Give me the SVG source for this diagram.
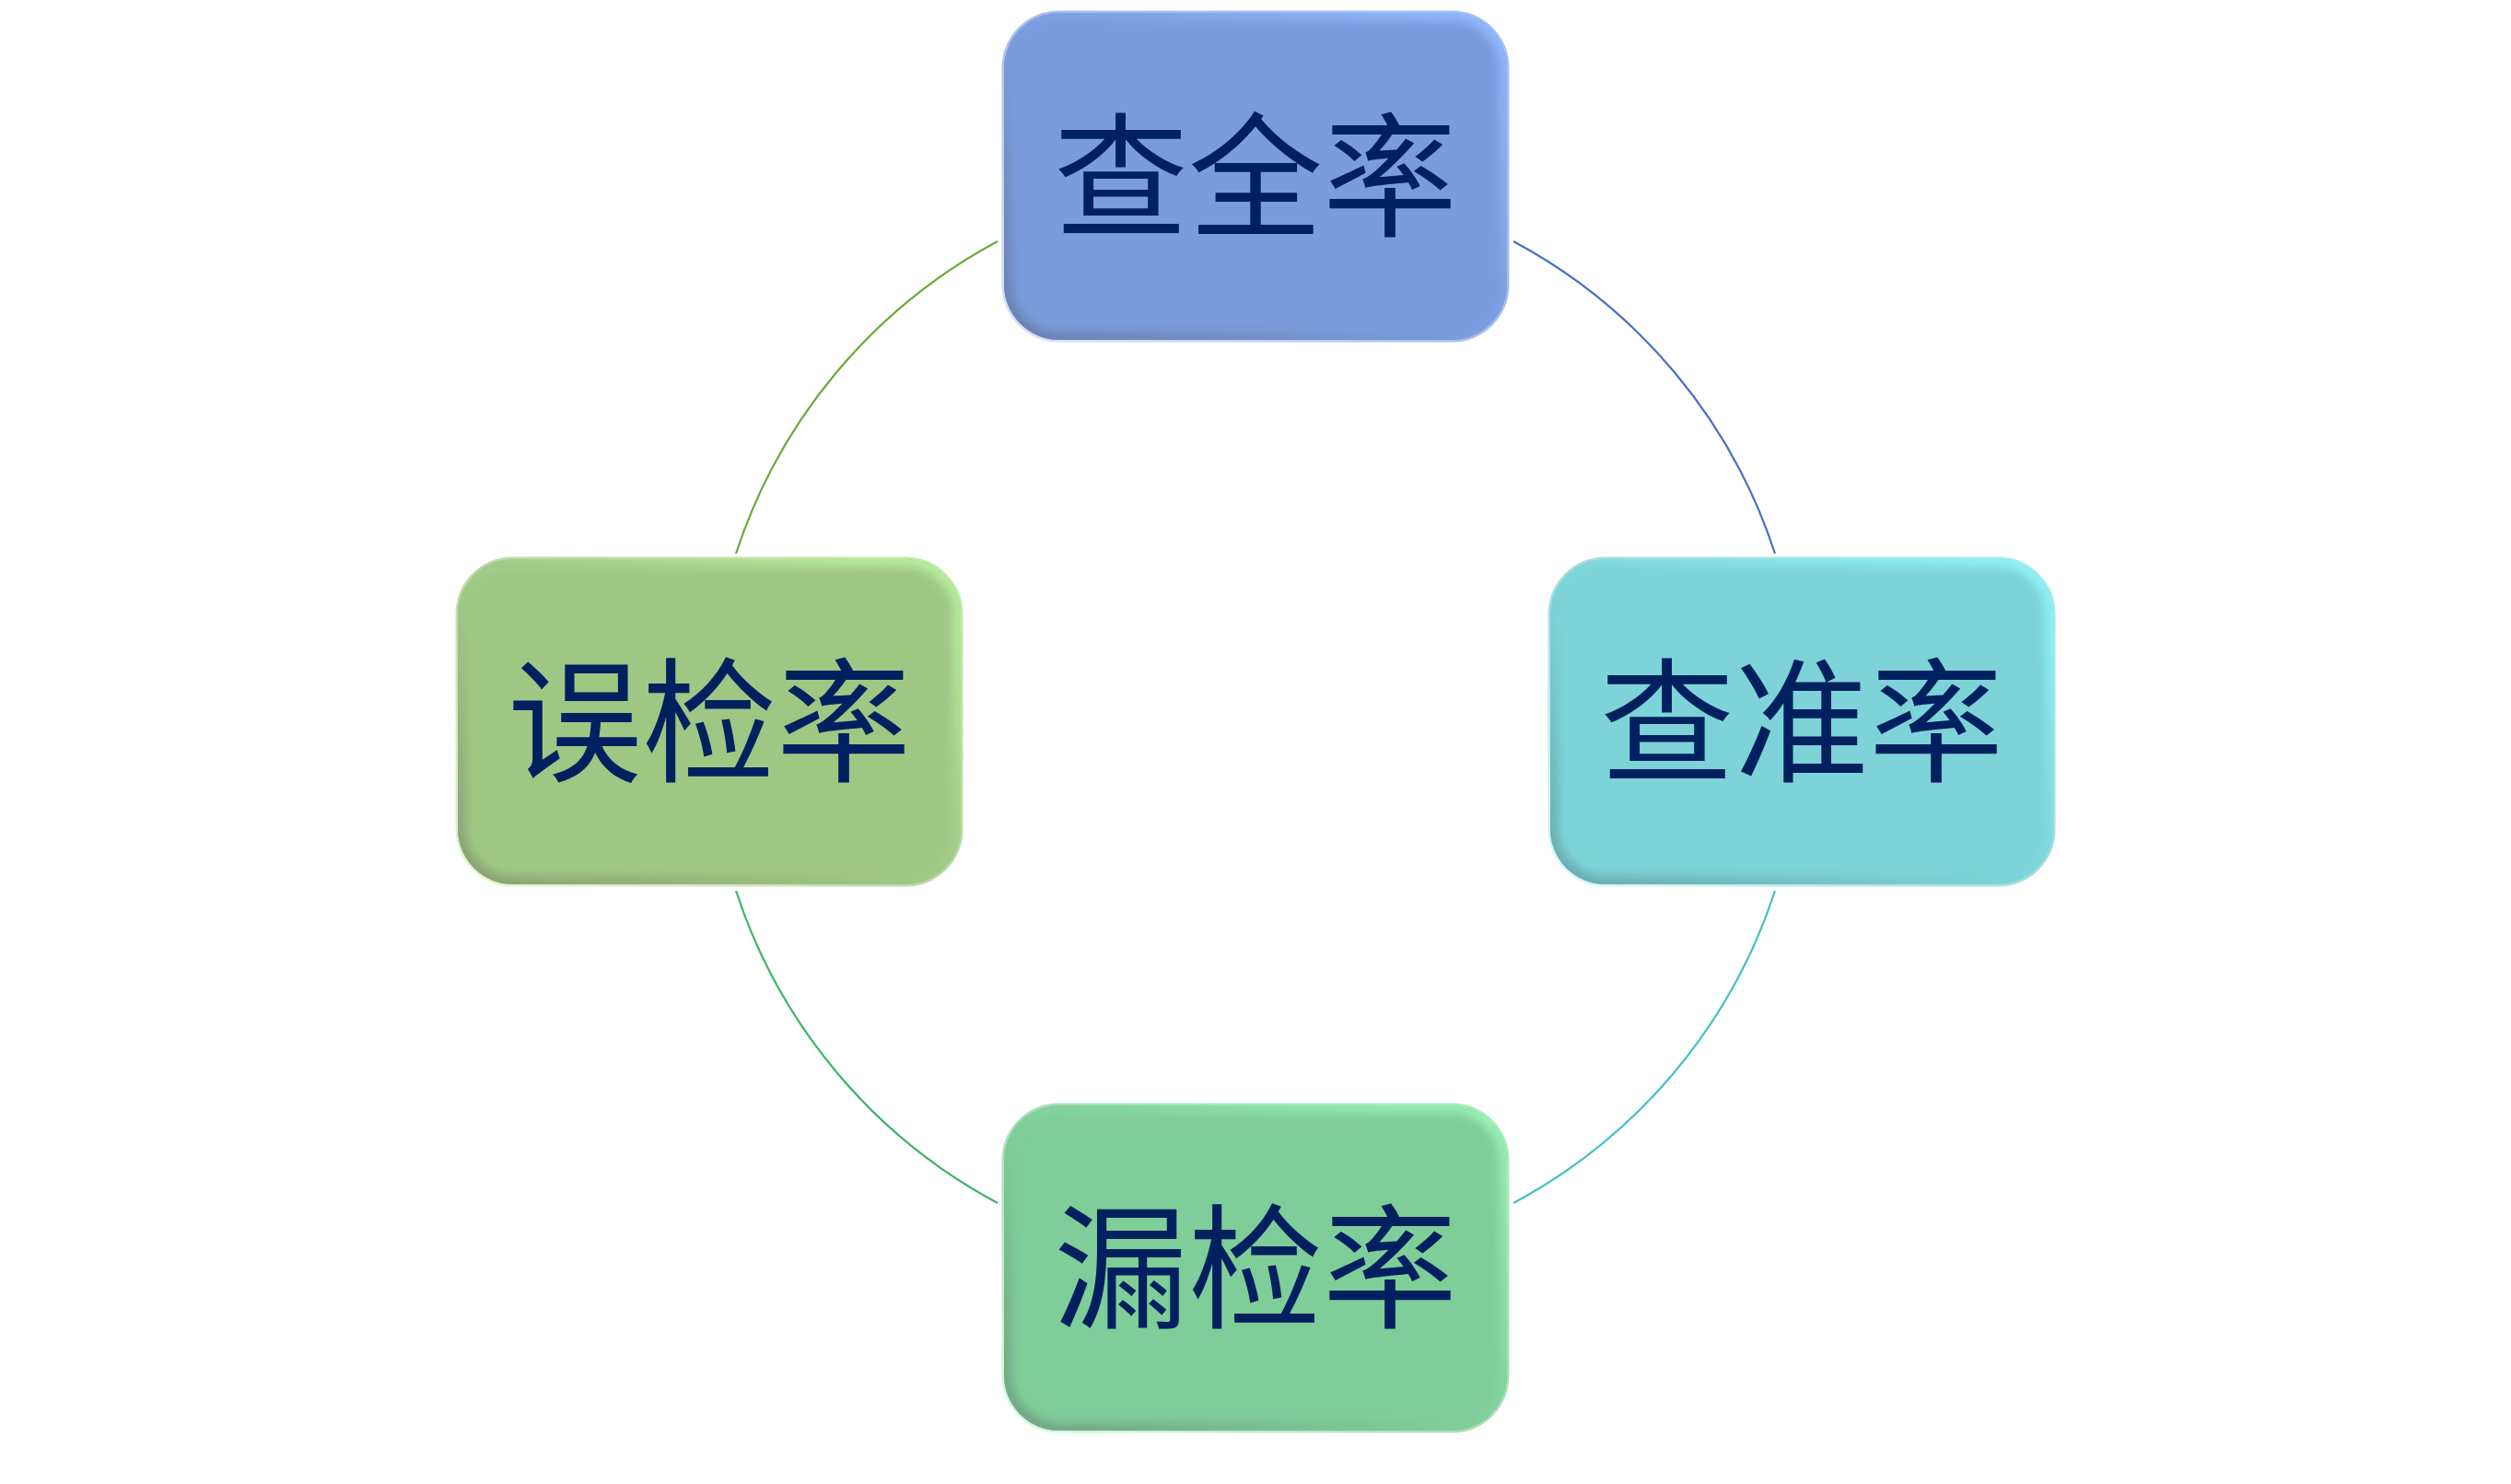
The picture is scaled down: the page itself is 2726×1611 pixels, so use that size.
<svg xmlns="http://www.w3.org/2000/svg" width="2726" height="1611" viewBox="0 0 2726 1611">
<style>
  .conn { fill: none; stroke-width: 2.2; }
  .label { font-family: "Noto Sans CJK SC", "Noto Sans", sans-serif; font-size: 146px; font-weight: 400; fill: #002060; text-anchor: middle; }
  .edge { fill: none; stroke-width: 18; filter: url(#soft); clip-path: url(#rclip); }
  .halo { fill: none; stroke-width: 3; }
</style>
<defs>
  <filter id="soft" x="-5%" y="-5%" width="110%" height="110%"><feGaussianBlur stdDeviation="5"/></filter>
  <clipPath id="rclip" clipPathUnits="objectBoundingBox"><rect x="0" y="0" width="1" height="1" rx="0.11" ry="0.17"/></clipPath>
  <linearGradient id="eBlue" x1="0" y1="1" x2="1" y2="0">
    <stop offset="0" stop-color="#6a80ad"/><stop offset="0.45" stop-color="#7a9bdc"/><stop offset="1" stop-color="#93b8ff"/>
  </linearGradient>
  <linearGradient id="hBlue" x1="0" y1="1" x2="1" y2="0">
    <stop offset="0" stop-color="#d6e4ff"/><stop offset="0.5" stop-color="#a9bfe6"/><stop offset="1" stop-color="#a3bff5"/>
  </linearGradient>
  <linearGradient id="eCyan" x1="0" y1="1" x2="1" y2="0">
    <stop offset="0" stop-color="#6aa9ac"/><stop offset="0.45" stop-color="#7dd3d8"/><stop offset="1" stop-color="#90f3f6"/>
  </linearGradient>
  <linearGradient id="hCyan" x1="0" y1="1" x2="1" y2="0">
    <stop offset="0" stop-color="#d4fbfc"/><stop offset="0.5" stop-color="#a6dcde"/><stop offset="1" stop-color="#a0eef0"/>
  </linearGradient>
  <linearGradient id="eLime" x1="0" y1="1" x2="1" y2="0">
    <stop offset="0" stop-color="#88a074"/><stop offset="0.45" stop-color="#9ec784"/><stop offset="1" stop-color="#b9ed9c"/>
  </linearGradient>
  <linearGradient id="hLime" x1="0" y1="1" x2="1" y2="0">
    <stop offset="0" stop-color="#e2fbd2"/><stop offset="0.5" stop-color="#bcd6aa"/><stop offset="1" stop-color="#c4eeab"/>
  </linearGradient>
  <linearGradient id="eMint" x1="0" y1="1" x2="1" y2="0">
    <stop offset="0" stop-color="#71a483"/><stop offset="0.45" stop-color="#7fcd98"/><stop offset="1" stop-color="#9af0b5"/>
  </linearGradient>
  <linearGradient id="hMint" x1="0" y1="1" x2="1" y2="0">
    <stop offset="0" stop-color="#d4fbe0"/><stop offset="0.5" stop-color="#a9dcb8"/><stop offset="1" stop-color="#a6efbc"/>
  </linearGradient>
</defs>
<rect width="2726" height="1611" fill="#ffffff"/>
<g id="connectors">
  <path class="conn" stroke="#4472c4" d="M1643,262 A593,593 0 0 1 1927,601"/>
  <path class="conn" stroke="#45bfc6" d="M1927,967 A593,593 0 0 1 1643,1306"/>
  <path class="conn" stroke="#3fb36a" d="M1083,1306 A593,593 0 0 1 799,967"/>
  <path class="conn" stroke="#6aab3c" d="M799,601 A593,593 0 0 1 1083,262"/>
</g>
<g id="node-top">
  <rect class="halo" x="1089" y="13" width="548" height="357" rx="61" stroke="url(#hBlue)"/>
  <rect x="1090" y="14" width="546" height="355" rx="60" fill="#7a9bdc"/>
  <rect class="edge" x="1090" y="14" width="546" height="355" rx="60" stroke="url(#eBlue)"/>
  <text class="label" x="1363" y="245">查全率</text>
</g>
<g id="node-right">
  <rect class="halo" x="1682" y="606" width="548" height="355" rx="61" stroke="url(#hCyan)"/>
  <rect x="1683" y="607" width="546" height="353" rx="60" fill="#7dd3d8"/>
  <rect class="edge" x="1683" y="607" width="546" height="353" rx="60" stroke="url(#eCyan)"/>
  <text class="label" x="1956" y="837">查准率</text>
</g>
<g id="node-left">
  <rect class="halo" x="496" y="606" width="548" height="355" rx="61" stroke="url(#hLime)"/>
  <rect x="497" y="607" width="546" height="353" rx="60" fill="#9ec784"/>
  <rect class="edge" x="497" y="607" width="546" height="353" rx="60" stroke="url(#eLime)"/>
  <text class="label" x="770" y="837">误检率</text>
</g>
<g id="node-bottom">
  <rect class="halo" x="1089" y="1199" width="548" height="355" rx="61" stroke="url(#hMint)"/>
  <rect x="1090" y="1200" width="546" height="353" rx="60" fill="#7fcd98"/>
  <rect class="edge" x="1090" y="1200" width="546" height="353" rx="60" stroke="url(#eMint)"/>
  <text class="label" x="1363" y="1430">漏检率</text>
</g>
</svg>
